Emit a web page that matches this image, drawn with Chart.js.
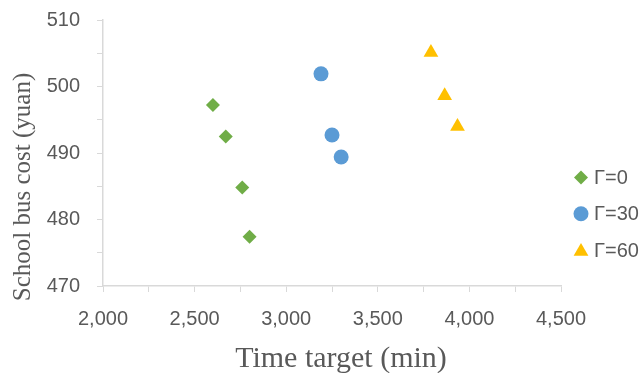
<!DOCTYPE html>
<html>
<head>
<meta charset="utf-8">
<script src="https://cdn.jsdelivr.net/npm/chart.js@4/dist/chart.umd.min.js"></script>
<style>
  html, body { margin: 0; padding: 0; background: #ffffff; }
  #wrap { width: 643px; height: 373px; }
</style>
</head>
<body>
<div id="wrap"><canvas id="c" width="643" height="373"></canvas></div>
<script>
// Series: time target (min) vs. school bus cost (yuan) for each Γ
const seriesNames = ['Γ=0', 'Γ=30', 'Γ=60'];
const g0Time = [2600, 2670, 2760, 2800];
const g0Cost = [497.2, 492.5, 484.8, 477.4];
const g30Time = [3190, 3250, 3300];
const g30Cost = [501.9, 492.7, 489.4];
const g60Time = [3790, 3865, 3935];
const g60Cost = [505.1, 498.6, 494.0];

// Axis tick labels (minor ticks in between carry no label)
const xTickValues = [2000, 2500, 3000, 3500, 4000, 4500];
const xTickLabels = ['2,000', '2,500', '3,000', '3,500', '4,000', '4,500'];
const yTickValues = [470, 480, 490, 500, 510];
const yTickLabels = ['470', '480', '490', '500', '510'];

const xTitle = 'Time target (min)';
const yTitle = 'School bus cost (yuan)';

const GREY_TEXT = '#595959';
const AXIS_GREY = '#d9d9d9';

function pairs(xs, ys) { return xs.map((x, i) => ({ x: x, y: ys[i] })); }

const styles = [
  { color: '#70ad47', shape: 'rectRot', radius: 7 },
  { color: '#5b9bd5', shape: 'circle', radius: 7.5 },
  { color: '#ffc000', shape: 'triangle', radius: 8.5 }
];
const seriesData = [pairs(g0Time, g0Cost), pairs(g30Time, g30Cost), pairs(g60Time, g60Cost)];

const datasets = seriesNames.map((name, i) => ({
  label: name,
  data: seriesData[i],
  showLine: false,
  pointStyle: styles[i].shape,
  pointRadius: styles[i].radius,
  pointHoverRadius: styles[i].radius,
  pointBackgroundColor: styles[i].color,
  pointBorderColor: styles[i].color,
  pointBorderWidth: 0,
  pointHoverBorderWidth: 0
}));

function shapePath(ctx, shape, r, x, y) {
  ctx.beginPath();
  if (shape === 'circle') {
    ctx.arc(x, y, r, 0, Math.PI * 2);
  } else if (shape === 'rectRot') {
    ctx.moveTo(x - r, y); ctx.lineTo(x, y - r); ctx.lineTo(x + r, y); ctx.lineTo(x, y + r);
  } else {
    const s = Math.sin(Math.PI / 3) * r;
    ctx.moveTo(x, y - r); ctx.lineTo(x + s, y + r / 2); ctx.lineTo(x - s, y + r / 2);
  }
  ctx.closePath();
  ctx.fill();
}

// Legend on the right and the two axis titles
const decorations = {
  id: 'decorations',
  afterDraw(chart) {
    const ctx = chart.ctx;
    const area = chart.chartArea;
    ctx.save();
    // legend
    const lx = area.right + 20;
    const ly0 = 177.5, gap = 36.3;
    ctx.font = '20px "Liberation Sans", Arial, sans-serif';
    ctx.textBaseline = 'middle';
    ctx.textAlign = 'left';
    seriesNames.forEach((name, i) => {
      const y = ly0 + gap * i;
      ctx.fillStyle = styles[i].color;
      const yy = styles[i].shape === 'triangle' ? y + 1.5 : y;
      shapePath(ctx, styles[i].shape, styles[i].radius, lx, yy);
      ctx.fillStyle = GREY_TEXT;
      ctx.fillText(name, lx + 13, y + 1);
    });
    // x-axis title
    ctx.fillStyle = GREY_TEXT;
    ctx.font = '30px "Liberation Serif", "Times New Roman", serif';
    ctx.textAlign = 'center';
    ctx.textBaseline = 'alphabetic';
    ctx.fillText(xTitle, (area.left + area.right) / 2 + 9, 366.5);
    // y-axis title
    ctx.font = '25px "Liberation Serif", "Times New Roman", serif';
    ctx.translate(30, 187);
    ctx.rotate(-Math.PI / 2);
    ctx.fillText(yTitle, 0, 0);
    ctx.restore();
  }
};

new Chart(document.getElementById('c'), {
  type: 'scatter',
  data: { datasets: datasets },
  options: {
    responsive: false,
    animation: false,
    events: [],
    layout: { padding: { top: 20, right: 82, bottom: 0, left: 0 } },
    plugins: { legend: { display: false }, tooltip: { enabled: false } },
    scales: {
      x: {
        type: 'linear',
        min: 2000, max: 4500,
        afterFit(scale) { scale.height = 87; scale.paddingLeft = 0; scale.paddingRight = 0; },
        border: { display: true, color: AXIS_GREY, width: 1.5 },
        grid: { display: true, drawOnChartArea: false, drawTicks: true, tickLength: 6, color: AXIS_GREY, lineWidth: 1 },
        ticks: {
          stepSize: 250,
          autoSkip: false,
          maxRotation: 0,
          padding: 15,
          color: GREY_TEXT,
          font: { family: '"Liberation Sans", Arial, sans-serif', size: 20 },
          callback(value) {
            const k = xTickValues.indexOf(value);
            return k >= 0 ? xTickLabels[k] : '';
          }
        }
      },
      y: {
        type: 'linear',
        min: 470, max: 510,
        afterFit(scale) { scale.width = 103; scale.paddingTop = 0; scale.paddingBottom = 0; },
        border: { display: true, color: AXIS_GREY, width: 1.5 },
        grid: { display: true, drawOnChartArea: false, drawTicks: true, tickLength: 6, color: AXIS_GREY, lineWidth: 1 },
        ticks: {
          stepSize: 5,
          autoSkip: false,
          padding: 17,
          color: GREY_TEXT,
          font: { family: '"Liberation Sans", Arial, sans-serif', size: 20 },
          callback(value) {
            const k = yTickValues.indexOf(value);
            return k >= 0 ? yTickLabels[k] : '';
          }
        }
      }
    }
  },
  plugins: [decorations]
});
</script>
</body>
</html>
